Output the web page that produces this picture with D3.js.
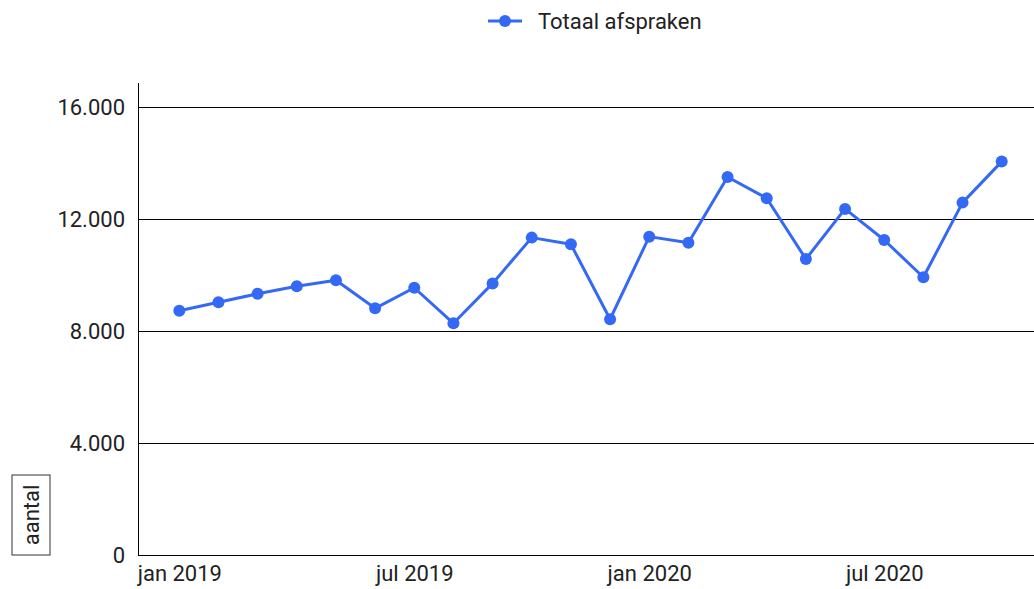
<!DOCTYPE html>
<html>
<head>
<meta charset="utf-8">
<script src="https://cdn.jsdelivr.net/npm/d3@7"></script>
<style>
  body { margin: 0; background: #fff; }
  text { font-family: Roboto, "Noto Sans", sans-serif; fill: #222; }
</style>
</head>
<body>
<div id="chart"></div>
<script>
// months (index 0 = jan 2019)
var months = ["jan 2019", "feb 2019", "mrt 2019", "apr 2019", "mei 2019", "jun 2019",
    "jul 2019", "aug 2019", "sep 2019", "okt 2019", "nov 2019", "dec 2019",
    "jan 2020", "feb 2020", "mrt 2020", "apr 2020", "mei 2020", "jun 2020",
    "jul 2020", "aug 2020", "sep 2020", "okt 2020"];
var totaalAfspraken = [8725, 9025, 9330, 9595, 9810, 8810, 9545, 8275, 9700, 11335, 11095,
    8420, 11370, 11155, 13500, 12740, 10570, 12360, 11250, 9920, 12585, 14050];
var xTickIndex = [0, 6, 12, 18];
var xTickLabels = ["jan 2019", "jul 2019", "jan 2020", "jul 2020"];
var yTicks = [0, 4000, 8000, 12000, 16000];
var seriesName = "Totaal afspraken";
var yTitle = "aantal";

var width = 1034, height = 589;
var plot = {left: 138, right: 1034, top: 83, bottom: 555};
var color = "#3469f5";
var fontSize = 22;

var svg = d3.select("#chart").append("svg")
    .attr("width", width)
    .attr("height", height);

var x = d3.scaleLinear()
    .domain([0, months.length - 1])
    .range([179.3, 1001.7]);

var y = d3.scaleLinear()
    .domain([0, 16000])
    .range([plot.bottom, 107]);

var fmt = function (v) { return d3.format(",")(v).replace(/,/g, "."); };

// gridlines + y labels
var yAxis = svg.append("g")
    .attr("transform", "translate(" + plot.left + ",0)")
    .call(d3.axisLeft(y).tickValues(yTicks).tickFormat(fmt)
        .tickSize(-(plot.right - plot.left)).tickPadding(13));
yAxis.select(".domain").remove();
yAxis.selectAll(".tick line").attr("stroke", "#000").attr("stroke-width", 1);
yAxis.selectAll(".tick text")
    .attr("font-size", fontSize)
    .attr("font-family", "Roboto")
    .attr("fill", "#222");

// y axis line
svg.append("line")
    .attr("x1", plot.left + 0.5).attr("x2", plot.left + 0.5)
    .attr("y1", plot.top).attr("y2", plot.bottom)
    .attr("stroke", "#000");

// x axis labels
var xAxis = svg.append("g")
    .attr("transform", "translate(0," + plot.bottom + ")")
    .call(d3.axisBottom(x).tickValues(xTickIndex)
        .tickFormat(function (d, i) { return xTickLabels[i]; })
        .tickSize(0).tickPadding(10));
xAxis.select(".domain").remove();
xAxis.selectAll(".tick text")
    .attr("font-size", fontSize)
    .attr("font-family", "Roboto")
    .attr("fill", "#222");

// line
var line = d3.line()
    .x(function (d, i) { return x(i); })
    .y(function (d) { return y(d); });

svg.append("path")
    .datum(totaalAfspraken)
    .attr("fill", "none")
    .attr("stroke", color)
    .attr("stroke-width", 3)
    .attr("stroke-linejoin", "round")
    .attr("d", line);

svg.selectAll(".dot")
    .data(totaalAfspraken)
    .enter().append("circle")
    .attr("class", "dot")
    .attr("cx", function (d, i) { return x(i); })
    .attr("cy", function (d) { return y(d); })
    .attr("r", 6)
    .attr("fill", color);

// legend
var legend = svg.append("g").attr("transform", "translate(488,21)");
legend.append("line")
    .attr("x1", 0).attr("x2", 34)
    .attr("stroke", color).attr("stroke-width", 3);
legend.append("circle")
    .attr("cx", 17).attr("r", 6).attr("fill", color);
legend.append("text")
    .attr("x", 50).attr("y", 8)
    .attr("font-size", fontSize)
    .text(seriesName);

// y title in box
var yt = svg.append("g").attr("transform", "translate(31,515)");
yt.append("rect")
    .attr("x", -19).attr("y", -40)
    .attr("width", 38).attr("height", 80)
    .attr("fill", "none")
    .attr("stroke", "#333");
yt.append("text")
    .attr("transform", "rotate(-90)")
    .attr("text-anchor", "middle")
    .attr("dy", "0.35em")
    .attr("font-size", fontSize)
    .text(yTitle);
</script>
</body>
</html>
